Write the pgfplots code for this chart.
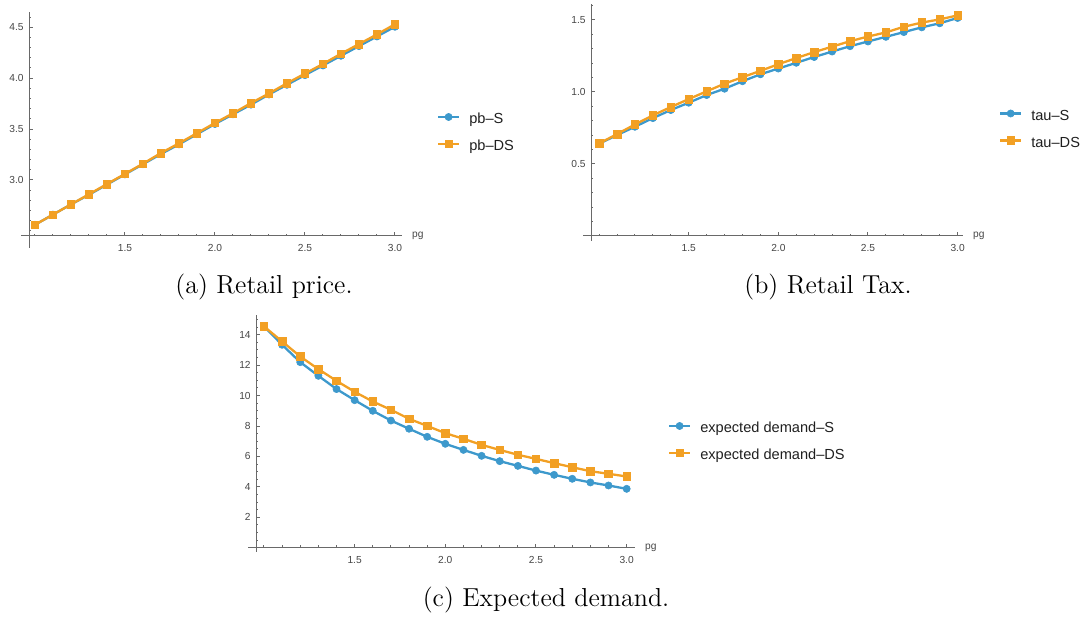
\documentclass[border=0pt]{standalone}
\usepackage{fontspec}
\usepackage{pgfplots}
\pgfplotsset{compat=1.18}
\newfontfamily\mfont{Liberation Sans}
\definecolor{mblue}{RGB}{61,153,204}
\definecolor{morange}{RGB}{242,160,36}
\definecolor{axgray}{RGB}{105,105,105}
\definecolor{labgray}{RGB}{70,70,70}
\pgfplotsset{
  mstyle/.style={
    scale only axis, axis lines=left, clip=false,
    axis line style={-, draw=axgray, line width=0.5pt},
    tick style={draw=axgray, line width=0.5pt},
    major tick length=1.8pt, minor tick length=1.1pt, tick align=inside,
    /pgf/number format/assume math mode=true,
    tick label style={font=\mfont\fontsize{5.1}{6}\selectfont, text=labgray},
    xticklabel style={inner xsep=0pt, inner ysep=4pt, /pgf/number format/.cd, fixed, fixed zerofill, precision=1},
    yticklabel style={inner xsep=2.5pt, inner ysep=0pt},
    xlabel={pg},
    xlabel style={at={(axis description cs:1,0)}, anchor=west, inner sep=0pt, xshift=4.9pt, font=\mfont\fontsize{5.1}{6}\selectfont, text=labgray},
    legend cell align=left,
    legend style={draw=none, fill=none, inner sep=0pt, outer sep=0pt, anchor=west,
      font=\mfont\fontsize{7.3}{8}\selectfont, text=black!88,
      nodes={inner sep=0pt, text height=5.3pt, text depth=1.5pt},
      row sep=6.7pt, column sep=4.5pt},
    legend image code/.code={\draw[mark repeat=2,mark phase=2,yshift=1.4pt,##1] plot coordinates {(0pt,0pt) (5.25pt,0pt) (10.5pt,0pt)};},
    minor xtick={1.0,1.1,...,3.0},
    xtick={1.5,2.0,2.5,3.0},
  },
  sS/.style={color=mblue, line width=1.15pt, mark=*, mark size=1.8pt, mark options={solid, line width=0.3pt, fill=mblue}},
  sDS/.style={color=morange, line width=1.15pt, mark=square*, mark size=1.9pt, mark options={solid, line width=0.3pt, fill=morange}},
}
\begin{document}
\begin{tikzpicture}
\useasboundingbox (0,0) rectangle (544pt,-309.5pt);
% (a)
\begin{axis}[mstyle, at={(14.5pt,-118pt)}, anchor=south west,
  width=186.5pt, height=112pt,
  xmin=0.967, xmax=3.039, ymin=2.45, ymax=4.65,
  y axis line style={shorten <=-6pt}, x axis line style={shorten <=-4pt},
  ytick={3.0,3.5,4.0,4.5}, minor ytick={2.5,2.6,...,4.61},
  yticklabel style={/pgf/number format/.cd, fixed, fixed zerofill, precision=1},
  legend style={at={(axis description cs:1.0938,0.4585)}}]
\addplot[sS] coordinates {(1.0,2.56) (1.1,2.66) (1.2,2.76) (1.3,2.855) (1.4,2.955) (1.5,3.055) (1.6,3.155) (1.7,3.255) (1.8,3.35) (1.9,3.45) (2.0,3.55) (2.1,3.645) (2.2,3.74) (2.3,3.84) (2.4,3.935) (2.5,4.03) (2.6,4.125) (2.7,4.22) (2.8,4.315) (2.9,4.41) (3.0,4.505)};
\addlegendentry{pb–S}
\addplot[sDS] coordinates {(1.0,2.56) (1.1,2.66) (1.2,2.76) (1.3,2.86) (1.4,2.96) (1.5,3.06) (1.6,3.16) (1.7,3.265) (1.8,3.36) (1.9,3.46) (2.0,3.56) (2.1,3.655) (2.2,3.755) (2.3,3.85) (2.4,3.95) (2.5,4.045) (2.6,4.14) (2.7,4.24) (2.8,4.335) (2.9,4.43) (3.0,4.53)};
\addlegendentry{pb–DS}
\end{axis}
% (b)
\begin{axis}[mstyle, at={(295.5pt,-118pt)}, anchor=south west,
  width=186pt, height=116pt,
  xmin=0.955, xmax=3.03, ymin=0, ymax=1.61,
  y axis line style={shorten <=-2.5pt}, x axis line style={shorten <=-4pt},
  ytick={0.5,1.0,1.5}, minor ytick={0.1,0.2,...,1.61},
  yticklabel style={/pgf/number format/.cd, fixed, fixed zerofill, precision=1},
  legend style={at={(axis description cs:1.0968,0.4578)}}]
\addplot[sS] coordinates {(1.0,0.64) (1.1,0.70) (1.2,0.758) (1.3,0.818) (1.4,0.874) (1.5,0.925) (1.6,0.978) (1.7,1.022) (1.8,1.074) (1.9,1.122) (2.0,1.162) (2.1,1.202) (2.2,1.242) (2.3,1.28) (2.4,1.317) (2.5,1.35) (2.6,1.382) (2.7,1.415) (2.8,1.448) (2.9,1.476) (3.0,1.513)};
\addlegendentry{tau–S}
\addplot[sDS] coordinates {(1.0,0.642) (1.1,0.707) (1.2,0.774) (1.3,0.837) (1.4,0.895) (1.5,0.95) (1.6,1.004) (1.7,1.057) (1.8,1.102) (1.9,1.146) (2.0,1.192) (2.1,1.235) (2.2,1.276) (2.3,1.314) (2.4,1.352) (2.5,1.384) (2.6,1.413) (2.7,1.452) (2.8,1.481) (2.9,1.503) (3.0,1.531)};
\addlegendentry{tau–DS}
\end{axis}
% (c)
\begin{axis}[mstyle, at={(128pt,-273.85pt)}, anchor=south west,
  width=189.5pt, height=116.35pt,
  xmin=0.956, xmax=3.046, ymin=0, ymax=15.3,
  y axis line style={shorten <=-2pt}, x axis line style={shorten <=-4pt},
  ytick={2,4,...,14}, minor ytick={0.5,1,...,15},
  legend style={at={(axis description cs:1.087,0.453)}}]
\addplot[sS] coordinates {(1.0,14.55) (1.1,13.34) (1.2,12.2) (1.3,11.3) (1.4,10.43) (1.5,9.70) (1.6,9.0) (1.7,8.36) (1.8,7.82) (1.9,7.29) (2.0,6.83) (2.1,6.43) (2.2,6.04) (2.3,5.69) (2.4,5.38) (2.5,5.07) (2.6,4.79) (2.7,4.53) (2.8,4.29) (2.9,4.09) (3.0,3.87)};
\addlegendentry{expected demand–S}
\addplot[sDS] coordinates {(1.0,14.55) (1.1,13.56) (1.2,12.57) (1.3,11.74) (1.4,10.97) (1.5,10.25) (1.6,9.61) (1.7,9.07) (1.8,8.47) (1.9,8.01) (2.0,7.53) (2.1,7.16) (2.2,6.76) (2.3,6.43) (2.4,6.11) (2.5,5.84) (2.6,5.56) (2.7,5.29) (2.8,5.03) (2.9,4.86) (3.0,4.68)};
\addlegendentry{expected demand–DS}
\end{axis}
\node[inner sep=0pt, font=\fontsize{13}{15}\selectfont] at (132pt,-143.3pt) {(a) Retail price.};
\node[inner sep=0pt, font=\fontsize{13}{15}\selectfont] at (414pt,-143.3pt) {(b) Retail Tax.};
\node[inner sep=0pt, font=\fontsize{13}{15}\selectfont] at (273pt,-300pt) {(c) Expected demand.};
\end{tikzpicture}
\end{document}
